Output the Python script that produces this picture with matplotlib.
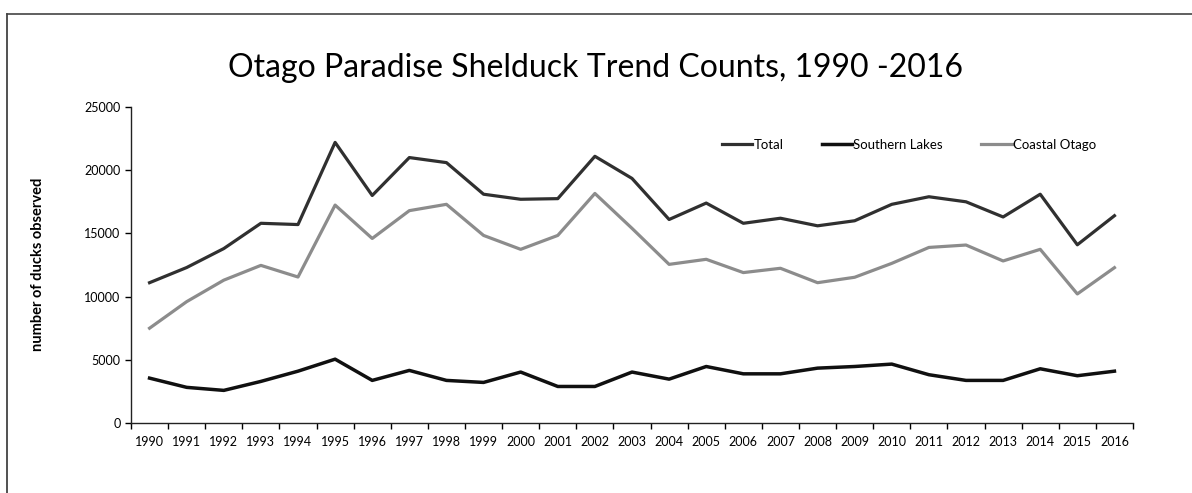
import matplotlib
matplotlib.use("Agg")
import matplotlib.pyplot as plt
from matplotlib.lines import Line2D

plt.rcParams['font.family'] = ['Lato', 'DejaVu Sans']

years = [str(y) for y in range(1990, 2017)]
total = [11100, 12300, 13800, 15800, 15700, 22200, 18000, 21000, 20600, 18100,
         17700, 17750, 21100, 19350, 16100, 17400, 15800, 16200, 15600, 16000,
         17300, 17900, 17500, 16300, 18100, 14100, 16400]
southern = [3550, 2820, 2580, 3290, 4100, 5050, 3370, 4160, 3370, 3210,
            4030, 2890, 2890, 4030, 3470, 4470, 3890, 3890, 4340, 4470,
            4660, 3820, 3370, 3370, 4290, 3740, 4100]
coastal = [7500, 9600, 11300, 12470, 11550, 17240, 14600, 16800, 17300, 14840,
           13740, 14840, 18160, 15400, 12550, 12950, 11900, 12240, 11100, 11530,
           12630, 13890, 14080, 12820, 13740, 10210, 12290]
yticks = [0, 5000, 10000, 15000, 20000, 25000]

fig = plt.figure(figsize=(11.92, 4.93), dpi=100)
# outer frame: only top and left edges are visible in the reference
fig.lines.append(Line2D([7/1192, 7/1192], [0, 1-14/493], transform=fig.transFigure,
                        color='#333333', lw=1.2))
fig.lines.append(Line2D([7/1192, 1], [1-14/493, 1-14/493], transform=fig.transFigure,
                        color='#444444', lw=1.2))

ax = fig.add_axes([131/1192, 1-423/493, (1133-131)/1192, (423-107)/493])

x = list(range(len(years)))
ax.plot(x, total, color='#303030', lw=2.3, label='Total')
ax.plot(x, southern, color='#101010', lw=2.5, label='Southern Lakes')
ax.plot(x, coastal, color='#8c8c8c', lw=2.3, label='Coastal Otago')

ax.set_xlim(-0.5, len(years) - 0.5)
ax.set_ylim(0, 25000)
ax.set_yticks(yticks)
ax.set_yticklabels([str(v) for v in yticks])
ax.set_xticks(x)
ax.set_xticklabels(years)
ax.set_xticks([i - 0.5 for i in range(len(years) + 1)], minor=True)
ax.tick_params(axis='x', which='major', length=0, pad=9, labelsize=9)
ax.tick_params(axis='x', which='minor', length=4, direction='out', width=1)
ax.tick_params(axis='y', length=4, direction='out', labelsize=9, width=1)
for s in ['top', 'right']:
    ax.spines[s].set_visible(False)
for s in ['left', 'bottom']:
    ax.spines[s].set_linewidth(1.0)
    ax.spines[s].set_color('#222222')

fig.text(596/1192, 1-68/493, 'Otago Paradise Shelduck Trend Counts, 1990 -2016',
         ha='center', va='center', fontsize=23)
fig.text(38/1192, 1-264/493, 'number of ducks observed', rotation=90,
         ha='center', va='center', fontsize=10.5, fontweight='bold')

ax.legend(loc='center', bbox_to_anchor=(909/1192, 1-145/493), bbox_transform=fig.transFigure,
          ncol=3, frameon=False, fontsize=9.5, handlelength=2.3, columnspacing=2.9,
          handletextpad=0.1)

fig.savefig('out.png', dpi=100)
